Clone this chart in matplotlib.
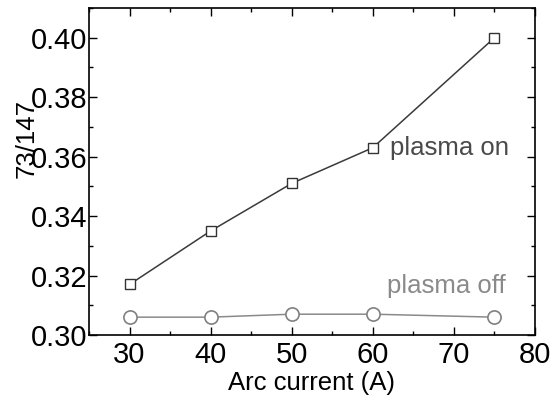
import matplotlib.pyplot as plt
from matplotlib.ticker import MultipleLocator

# data
arc_current = [30, 40, 50, 60, 75]
ratio_on = [0.317, 0.335, 0.351, 0.363, 0.400]
ratio_off = [0.306, 0.306, 0.307, 0.307, 0.306]

plt.rcParams["font.family"] = ["Liberation Sans", "DejaVu Sans"]

fig = plt.figure(figsize=(5.59, 3.98), dpi=100)
ax = fig.add_axes([89 / 559, 1 - 335 / 398, (535 - 89) / 559, (335 - 8) / 398])

ax.plot(arc_current, ratio_on, color="#3a3a3a", lw=1.1, marker="s", ms=6.5,
        mfc="white", mec="#333333", mew=1.0)
ax.plot(arc_current, ratio_off, color="#8a8a8a", lw=1.1, marker="o", ms=9.5,
        mfc="white", mec="#808080", mew=1.2)

ax.text(62.1, 0.3628, "plasma on", color="#4a4a4a", fontsize=18.5, va="center")
ax.text(61.8, 0.3164, "plasma off", color="#8a8a8a", fontsize=18.5, va="center")

ax.set_xlim(25, 80)
ax.set_ylim(0.30, 0.41)
ax.xaxis.set_major_locator(MultipleLocator(10))
ax.xaxis.set_minor_locator(MultipleLocator(5))
ax.yaxis.set_major_locator(MultipleLocator(0.02))
ax.yaxis.set_minor_locator(MultipleLocator(0.01))
ax.yaxis.set_major_formatter(plt.FormatStrFormatter("%.2f"))

ax.tick_params(which="both", direction="in", top=True, right=True,
               labeltop=False, labelright=False, width=1)
ax.tick_params(which="major", length=6, labelsize=21)
ax.tick_params(axis="y", which="major", pad=1)
ax.tick_params(axis="x", which="major", pad=4)
ax.tick_params(which="minor", length=3)
for s in ax.spines.values():
    s.set_linewidth(1.2)

ax.set_xlabel("Arc current (A)", fontsize=18.5, labelpad=2)
ax.set_ylabel("73/147", fontsize=18.5)
# label sits over the tick labels, as in the original
ax.yaxis.set_label_coords(-0.114, 0.602)

fig.savefig("out.png", dpi=100)
